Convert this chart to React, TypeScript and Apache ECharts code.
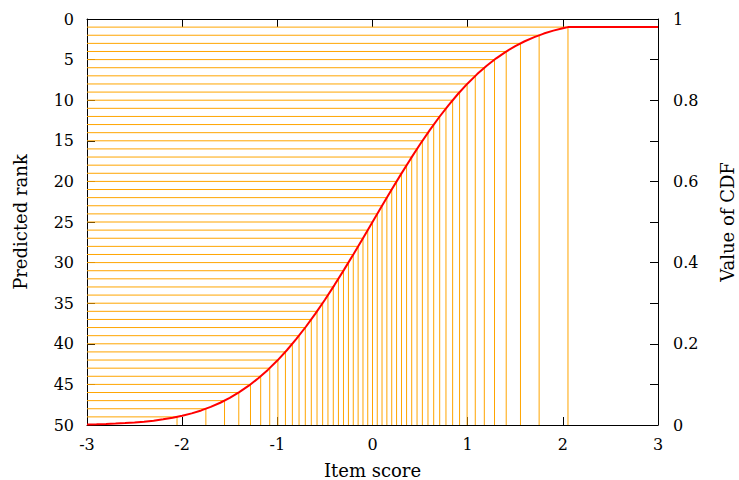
import React, { useEffect, useRef } from "react";
import * as echarts from "echarts";

// Red CDF curve
const curveX = [-3.0, -2.9, -2.8, -2.7, -2.6, -2.5, -2.4, -2.3, -2.2, -2.1, -2.0, -1.9, -1.8, -1.7, -1.6, -1.5, -1.4, -1.3, -1.2, -1.1, -1.0, -0.9, -0.8, -0.7, -0.6, -0.5, -0.4, -0.3, -0.2, -0.1, 0.0, 0.1, 0.2, 0.3, 0.4, 0.5, 0.6, 0.7, 0.8, 0.9, 1.0, 1.1, 1.2, 1.3, 1.4, 1.5, 1.6, 1.7, 1.8, 1.9, 2.0, 2.054, 3.0];
const curveCdf = [0.0013, 0.0019, 0.0026, 0.0035, 0.0047, 0.0062, 0.0082, 0.0107, 0.0139, 0.0179, 0.0228, 0.0287, 0.0359, 0.0446, 0.0548, 0.0668, 0.0808, 0.0968, 0.1151, 0.1357, 0.1587, 0.1841, 0.2119, 0.242, 0.2743, 0.3085, 0.3446, 0.3821, 0.4207, 0.4602, 0.5, 0.5398, 0.5793, 0.6179, 0.6554, 0.6915, 0.7257, 0.758, 0.7881, 0.8159, 0.8413, 0.8643, 0.8849, 0.9032, 0.9192, 0.9332, 0.9452, 0.9554, 0.9641, 0.9713, 0.9772, 0.98, 0.98];

// Orange quantile guide lines: item score positions and their CDF levels
const quantileX = [-2.054, -1.751, -1.555, -1.405, -1.282, -1.175, -1.08, -0.994, -0.915, -0.842, -0.772, -0.706, -0.643, -0.583, -0.524, -0.468, -0.412, -0.358, -0.305, -0.253, -0.202, -0.151, -0.1, -0.05, 0.0, 0.05, 0.1, 0.151, 0.202, 0.253, 0.305, 0.358, 0.412, 0.468, 0.524, 0.583, 0.643, 0.706, 0.772, 0.842, 0.915, 0.994, 1.08, 1.175, 1.282, 1.405, 1.555, 1.751, 2.054];
const quantileP = [0.02, 0.04, 0.06, 0.08, 0.1, 0.12, 0.14, 0.16, 0.18, 0.2, 0.22, 0.24, 0.26, 0.28, 0.3, 0.32, 0.34, 0.36, 0.38, 0.4, 0.42, 0.44, 0.46, 0.48, 0.5, 0.52, 0.54, 0.56, 0.58, 0.6, 0.62, 0.64, 0.66, 0.68, 0.7, 0.72, 0.74, 0.76, 0.78, 0.8, 0.82, 0.84, 0.86, 0.88, 0.9, 0.92, 0.94, 0.96, 0.98];

const FONT = "DejaVu Serif";

export default function App() {
  const ref = useRef<HTMLDivElement>(null);
  useEffect(() => {
    document.body.style.margin = "0";
    document.body.style.overflow = "hidden";
    const chart = echarts.init(ref.current!, null, { renderer: "svg" });
    const axisLine = { show: true, onZero: false, lineStyle: { color: "#000", width: 1 } };
    const tick = { show: true, inside: true, length: 8, lineStyle: { color: "#000" } };
    const label = { color: "#000", fontFamily: FONT, fontSize: 16 };
    const nameStyle = { color: "#000", fontFamily: FONT, fontSize: 18 };
    chart.setOption({
      animation: false,
      backgroundColor: "#fff",
      grid: { left: 87, right: 81, top: 19, bottom: 55, containLabel: false, outerBoundsMode: "none" },
      xAxis: [
        {
          type: "value", min: -3, max: 3, interval: 1, position: "bottom",
          name: "Item score", nameLocation: "middle", nameGap: 36, nameTextStyle: nameStyle,
          axisLine, axisTick: tick,
          axisLabel: { ...label, margin: 11 }, splitLine: { show: false },
        },
        {
          type: "value", min: -3, max: 3, interval: 1, position: "top",
          axisLine, axisTick: tick,
          axisLabel: { show: false }, splitLine: { show: false },
        },
      ],
      yAxis: [
        {
          type: "value", min: 0, max: 50, interval: 5, inverse: true, position: "left",
          name: "Predicted rank", nameLocation: "middle", nameGap: 58, nameRotate: 90, nameTextStyle: nameStyle,
          axisLine, axisTick: tick,
          axisLabel: { ...label, margin: 13 }, splitLine: { show: false },
        },
        {
          type: "value", min: 0, max: 1, interval: 0.1, position: "right",
          name: "Value of CDF", nameLocation: "middle", nameGap: 60, nameRotate: 90, nameTextStyle: nameStyle,
          axisLine, axisTick: tick,
          axisLabel: {
            ...label, margin: 15,
            formatter: (v: number) => {
              const t = Math.round(v * 10);
              if (t % 2 !== 0) return "";
              return String(t / 10);
            },
          },
          splitLine: { show: false },
        },
      ],
      series: [
        {
          type: "custom",
          xAxisIndex: 0,
          yAxisIndex: 1,
          data: quantileX.map((x, i) => [x, quantileP[i]]),
          encode: { x: 0, y: 1 },
          z: 1,
          renderItem: (params: any, api: any) => {
            const q = api.value(0);
            const p = api.value(1);
            const a = api.coord([-3, p]);
            const b = api.coord([q, p]);
            const c = api.coord([q, 0]);
            return {
              type: "polyline",
              shape: { points: [a, b, c] },
              style: { stroke: "#FFA500", lineWidth: 1, fill: "none" },
              silent: true,
            };
          },
        },
        {
          type: "line",
          xAxisIndex: 0,
          yAxisIndex: 1,
          data: curveX.map((x, i) => [x, curveCdf[i]]),
          showSymbol: false,
          symbol: "none",
          smooth: false,
          lineStyle: { color: "#FF0000", width: 2 },
          z: 3,
        },
      ],
    });
    return () => chart.dispose();
  }, []);
  return <div ref={ref} style={{ width: 739, height: 480, position: "absolute", left: 0, top: 0 }} />;
}
